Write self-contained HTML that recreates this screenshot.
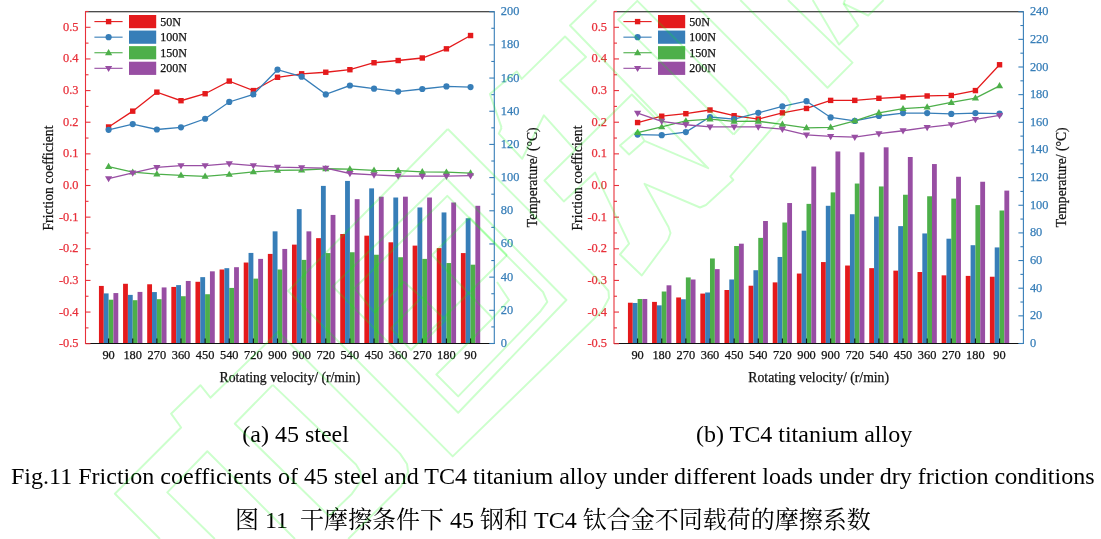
<!DOCTYPE html>
<html><head><meta charset="utf-8"><title>Fig.11</title>
<style>
html,body{margin:0;padding:0;background:#fff;}
body{width:1101px;height:539px;overflow:hidden;position:relative;font-family:"Liberation Serif","Noto Serif CJK SC",serif;}
svg{position:absolute;left:0;top:0;}
svg text{font-family:"Liberation Serif",serif;stroke-width:0.25px;paint-order:stroke;}
.tk{font-size:12.4px;}
.ax{font-size:13.7px;}
.lg{font-size:12px;}
svg text[fill="#111"]{stroke:#111;}
svg text[fill="#e8303a"]{stroke:#e8303a;}
svg text[fill="#377eb8"]{stroke:#377eb8;}
.cap{position:absolute;white-space:nowrap;font-size:24px;line-height:24px;color:#000;}
</style></head><body>
<svg width="1101" height="539" viewBox="0 0 1101 539">
<rect x="98.94" y="285.93" width="4.83" height="57.57" fill="#e41a1c"/>
<rect x="103.77" y="293.40" width="4.83" height="50.10" fill="#377eb8"/>
<rect x="108.60" y="299.70" width="4.83" height="43.80" fill="#4daf4a"/>
<rect x="113.43" y="293.07" width="4.83" height="50.43" fill="#984ea3"/>
<rect x="123.07" y="283.78" width="4.83" height="59.72" fill="#e41a1c"/>
<rect x="127.90" y="294.89" width="4.83" height="48.61" fill="#377eb8"/>
<rect x="132.73" y="300.20" width="4.83" height="43.30" fill="#4daf4a"/>
<rect x="137.56" y="291.91" width="4.83" height="51.59" fill="#984ea3"/>
<rect x="147.20" y="284.27" width="4.83" height="59.23" fill="#e41a1c"/>
<rect x="152.03" y="292.07" width="4.83" height="51.43" fill="#377eb8"/>
<rect x="156.86" y="299.20" width="4.83" height="44.30" fill="#4daf4a"/>
<rect x="161.69" y="287.43" width="4.83" height="56.07" fill="#984ea3"/>
<rect x="171.33" y="286.93" width="4.83" height="56.57" fill="#e41a1c"/>
<rect x="176.16" y="285.10" width="4.83" height="58.40" fill="#377eb8"/>
<rect x="180.99" y="296.22" width="4.83" height="47.28" fill="#4daf4a"/>
<rect x="185.82" y="280.96" width="4.83" height="62.54" fill="#984ea3"/>
<rect x="195.46" y="281.79" width="4.83" height="61.71" fill="#e41a1c"/>
<rect x="200.29" y="277.14" width="4.83" height="66.36" fill="#377eb8"/>
<rect x="205.12" y="294.23" width="4.83" height="49.27" fill="#4daf4a"/>
<rect x="209.95" y="271.33" width="4.83" height="72.17" fill="#984ea3"/>
<rect x="219.59" y="269.51" width="4.83" height="73.99" fill="#e41a1c"/>
<rect x="224.42" y="268.18" width="4.83" height="75.32" fill="#377eb8"/>
<rect x="229.25" y="287.92" width="4.83" height="55.58" fill="#4daf4a"/>
<rect x="234.08" y="267.19" width="4.83" height="76.31" fill="#984ea3"/>
<rect x="243.72" y="262.54" width="4.83" height="80.96" fill="#e41a1c"/>
<rect x="248.55" y="252.92" width="4.83" height="90.58" fill="#377eb8"/>
<rect x="253.38" y="278.63" width="4.83" height="64.87" fill="#4daf4a"/>
<rect x="258.21" y="258.89" width="4.83" height="84.61" fill="#984ea3"/>
<rect x="267.85" y="253.91" width="4.83" height="89.59" fill="#e41a1c"/>
<rect x="272.68" y="231.35" width="4.83" height="112.15" fill="#377eb8"/>
<rect x="277.51" y="269.51" width="4.83" height="73.99" fill="#4daf4a"/>
<rect x="282.34" y="248.94" width="4.83" height="94.56" fill="#984ea3"/>
<rect x="291.98" y="244.62" width="4.83" height="98.88" fill="#e41a1c"/>
<rect x="296.81" y="209.12" width="4.83" height="134.38" fill="#377eb8"/>
<rect x="301.64" y="259.89" width="4.83" height="83.61" fill="#4daf4a"/>
<rect x="306.47" y="231.35" width="4.83" height="112.15" fill="#984ea3"/>
<rect x="316.11" y="238.15" width="4.83" height="105.35" fill="#e41a1c"/>
<rect x="320.94" y="185.90" width="4.83" height="157.60" fill="#377eb8"/>
<rect x="325.77" y="253.08" width="4.83" height="90.42" fill="#4daf4a"/>
<rect x="330.60" y="214.93" width="4.83" height="128.57" fill="#984ea3"/>
<rect x="340.24" y="234.01" width="4.83" height="109.49" fill="#e41a1c"/>
<rect x="345.07" y="180.92" width="4.83" height="162.58" fill="#377eb8"/>
<rect x="349.90" y="252.25" width="4.83" height="91.25" fill="#4daf4a"/>
<rect x="354.73" y="199.17" width="4.83" height="144.33" fill="#984ea3"/>
<rect x="364.37" y="235.67" width="4.83" height="107.83" fill="#e41a1c"/>
<rect x="369.20" y="188.38" width="4.83" height="155.12" fill="#377eb8"/>
<rect x="374.03" y="254.74" width="4.83" height="88.76" fill="#4daf4a"/>
<rect x="378.86" y="196.68" width="4.83" height="146.82" fill="#984ea3"/>
<rect x="388.50" y="242.30" width="4.83" height="101.20" fill="#e41a1c"/>
<rect x="393.33" y="197.51" width="4.83" height="145.99" fill="#377eb8"/>
<rect x="398.16" y="257.23" width="4.83" height="86.27" fill="#4daf4a"/>
<rect x="402.99" y="196.68" width="4.83" height="146.82" fill="#984ea3"/>
<rect x="412.63" y="245.62" width="4.83" height="97.88" fill="#e41a1c"/>
<rect x="417.46" y="207.46" width="4.83" height="136.04" fill="#377eb8"/>
<rect x="422.29" y="258.89" width="4.83" height="84.61" fill="#4daf4a"/>
<rect x="427.12" y="197.51" width="4.83" height="145.99" fill="#984ea3"/>
<rect x="436.76" y="248.11" width="4.83" height="95.39" fill="#e41a1c"/>
<rect x="441.59" y="212.44" width="4.83" height="131.06" fill="#377eb8"/>
<rect x="446.42" y="263.04" width="4.83" height="80.46" fill="#4daf4a"/>
<rect x="451.25" y="202.49" width="4.83" height="141.01" fill="#984ea3"/>
<rect x="460.89" y="253.08" width="4.83" height="90.42" fill="#e41a1c"/>
<rect x="465.72" y="218.25" width="4.83" height="125.25" fill="#377eb8"/>
<rect x="470.55" y="264.70" width="4.83" height="78.80" fill="#4daf4a"/>
<rect x="475.38" y="205.80" width="4.83" height="137.70" fill="#984ea3"/>
<line x1="85.5" y1="11.7" x2="494.3" y2="11.7" stroke="#111" stroke-width="1.1"/>
<line x1="85.5" y1="343.5" x2="494.3" y2="343.5" stroke="#111" stroke-width="1.1"/>
<line x1="85.5" y1="11.2" x2="85.5" y2="344.0" stroke="#e8303a" stroke-width="1.1"/>
<line x1="494.3" y1="11.2" x2="494.3" y2="344.0" stroke="#377eb8" stroke-width="1.1"/>
<line x1="108.60" y1="343.5" x2="108.60" y2="338.5" stroke="#111" stroke-width="1.1"/>
<text x="108.60" y="359.1" text-anchor="middle" class="tk" fill="#111">90</text>
<line x1="132.73" y1="343.5" x2="132.73" y2="338.5" stroke="#111" stroke-width="1.1"/>
<text x="132.73" y="359.1" text-anchor="middle" class="tk" fill="#111">180</text>
<line x1="156.86" y1="343.5" x2="156.86" y2="338.5" stroke="#111" stroke-width="1.1"/>
<text x="156.86" y="359.1" text-anchor="middle" class="tk" fill="#111">270</text>
<line x1="180.99" y1="343.5" x2="180.99" y2="338.5" stroke="#111" stroke-width="1.1"/>
<text x="180.99" y="359.1" text-anchor="middle" class="tk" fill="#111">360</text>
<line x1="205.12" y1="343.5" x2="205.12" y2="338.5" stroke="#111" stroke-width="1.1"/>
<text x="205.12" y="359.1" text-anchor="middle" class="tk" fill="#111">450</text>
<line x1="229.25" y1="343.5" x2="229.25" y2="338.5" stroke="#111" stroke-width="1.1"/>
<text x="229.25" y="359.1" text-anchor="middle" class="tk" fill="#111">540</text>
<line x1="253.38" y1="343.5" x2="253.38" y2="338.5" stroke="#111" stroke-width="1.1"/>
<text x="253.38" y="359.1" text-anchor="middle" class="tk" fill="#111">720</text>
<line x1="277.51" y1="343.5" x2="277.51" y2="338.5" stroke="#111" stroke-width="1.1"/>
<text x="277.51" y="359.1" text-anchor="middle" class="tk" fill="#111">900</text>
<line x1="301.64" y1="343.5" x2="301.64" y2="338.5" stroke="#111" stroke-width="1.1"/>
<text x="301.64" y="359.1" text-anchor="middle" class="tk" fill="#111">900</text>
<line x1="325.77" y1="343.5" x2="325.77" y2="338.5" stroke="#111" stroke-width="1.1"/>
<text x="325.77" y="359.1" text-anchor="middle" class="tk" fill="#111">720</text>
<line x1="349.90" y1="343.5" x2="349.90" y2="338.5" stroke="#111" stroke-width="1.1"/>
<text x="349.90" y="359.1" text-anchor="middle" class="tk" fill="#111">540</text>
<line x1="374.03" y1="343.5" x2="374.03" y2="338.5" stroke="#111" stroke-width="1.1"/>
<text x="374.03" y="359.1" text-anchor="middle" class="tk" fill="#111">450</text>
<line x1="398.16" y1="343.5" x2="398.16" y2="338.5" stroke="#111" stroke-width="1.1"/>
<text x="398.16" y="359.1" text-anchor="middle" class="tk" fill="#111">360</text>
<line x1="422.29" y1="343.5" x2="422.29" y2="338.5" stroke="#111" stroke-width="1.1"/>
<text x="422.29" y="359.1" text-anchor="middle" class="tk" fill="#111">270</text>
<line x1="446.42" y1="343.5" x2="446.42" y2="338.5" stroke="#111" stroke-width="1.1"/>
<text x="446.42" y="359.1" text-anchor="middle" class="tk" fill="#111">180</text>
<line x1="470.55" y1="343.5" x2="470.55" y2="338.5" stroke="#111" stroke-width="1.1"/>
<text x="470.55" y="359.1" text-anchor="middle" class="tk" fill="#111">90</text>
<line x1="85.5" y1="343.70" x2="90.5" y2="343.70" stroke="#e8303a" stroke-width="1.1"/>
<text x="78.50" y="347.20" text-anchor="end" class="tk" fill="#e8303a">-0.5</text>
<line x1="85.5" y1="327.88" x2="88.5" y2="327.88" stroke="#e8303a" stroke-width="1.1"/>
<line x1="85.5" y1="312.06" x2="90.5" y2="312.06" stroke="#e8303a" stroke-width="1.1"/>
<text x="78.50" y="315.56" text-anchor="end" class="tk" fill="#e8303a">-0.4</text>
<line x1="85.5" y1="296.24" x2="88.5" y2="296.24" stroke="#e8303a" stroke-width="1.1"/>
<line x1="85.5" y1="280.42" x2="90.5" y2="280.42" stroke="#e8303a" stroke-width="1.1"/>
<text x="78.50" y="283.92" text-anchor="end" class="tk" fill="#e8303a">-0.3</text>
<line x1="85.5" y1="264.60" x2="88.5" y2="264.60" stroke="#e8303a" stroke-width="1.1"/>
<line x1="85.5" y1="248.78" x2="90.5" y2="248.78" stroke="#e8303a" stroke-width="1.1"/>
<text x="78.50" y="252.28" text-anchor="end" class="tk" fill="#e8303a">-0.2</text>
<line x1="85.5" y1="232.96" x2="88.5" y2="232.96" stroke="#e8303a" stroke-width="1.1"/>
<line x1="85.5" y1="217.14" x2="90.5" y2="217.14" stroke="#e8303a" stroke-width="1.1"/>
<text x="78.50" y="220.64" text-anchor="end" class="tk" fill="#e8303a">-0.1</text>
<line x1="85.5" y1="201.32" x2="88.5" y2="201.32" stroke="#e8303a" stroke-width="1.1"/>
<line x1="85.5" y1="185.50" x2="90.5" y2="185.50" stroke="#e8303a" stroke-width="1.1"/>
<text x="78.50" y="189.00" text-anchor="end" class="tk" fill="#e8303a">0.0</text>
<line x1="85.5" y1="169.68" x2="88.5" y2="169.68" stroke="#e8303a" stroke-width="1.1"/>
<line x1="85.5" y1="153.86" x2="90.5" y2="153.86" stroke="#e8303a" stroke-width="1.1"/>
<text x="78.50" y="157.36" text-anchor="end" class="tk" fill="#e8303a">0.1</text>
<line x1="85.5" y1="138.04" x2="88.5" y2="138.04" stroke="#e8303a" stroke-width="1.1"/>
<line x1="85.5" y1="122.22" x2="90.5" y2="122.22" stroke="#e8303a" stroke-width="1.1"/>
<text x="78.50" y="125.72" text-anchor="end" class="tk" fill="#e8303a">0.2</text>
<line x1="85.5" y1="106.40" x2="88.5" y2="106.40" stroke="#e8303a" stroke-width="1.1"/>
<line x1="85.5" y1="90.58" x2="90.5" y2="90.58" stroke="#e8303a" stroke-width="1.1"/>
<text x="78.50" y="94.08" text-anchor="end" class="tk" fill="#e8303a">0.3</text>
<line x1="85.5" y1="74.76" x2="88.5" y2="74.76" stroke="#e8303a" stroke-width="1.1"/>
<line x1="85.5" y1="58.94" x2="90.5" y2="58.94" stroke="#e8303a" stroke-width="1.1"/>
<text x="78.50" y="62.44" text-anchor="end" class="tk" fill="#e8303a">0.4</text>
<line x1="85.5" y1="43.12" x2="88.5" y2="43.12" stroke="#e8303a" stroke-width="1.1"/>
<line x1="85.5" y1="27.30" x2="90.5" y2="27.30" stroke="#e8303a" stroke-width="1.1"/>
<text x="78.50" y="30.80" text-anchor="end" class="tk" fill="#e8303a">0.5</text>
<line x1="85.5" y1="11.48" x2="88.5" y2="11.48" stroke="#e8303a" stroke-width="1.1"/>
<line x1="494.3" y1="343.50" x2="489.3" y2="343.50" stroke="#377eb8" stroke-width="1.1"/>
<text x="500.80" y="347.00" class="tk" fill="#377eb8">0</text>
<line x1="494.3" y1="326.91" x2="491.3" y2="326.91" stroke="#377eb8" stroke-width="1.1"/>
<line x1="494.3" y1="310.32" x2="489.3" y2="310.32" stroke="#377eb8" stroke-width="1.1"/>
<text x="500.80" y="313.82" class="tk" fill="#377eb8">20</text>
<line x1="494.3" y1="293.73" x2="491.3" y2="293.73" stroke="#377eb8" stroke-width="1.1"/>
<line x1="494.3" y1="277.14" x2="489.3" y2="277.14" stroke="#377eb8" stroke-width="1.1"/>
<text x="500.80" y="280.64" class="tk" fill="#377eb8">40</text>
<line x1="494.3" y1="260.55" x2="491.3" y2="260.55" stroke="#377eb8" stroke-width="1.1"/>
<line x1="494.3" y1="243.96" x2="489.3" y2="243.96" stroke="#377eb8" stroke-width="1.1"/>
<text x="500.80" y="247.46" class="tk" fill="#377eb8">60</text>
<line x1="494.3" y1="227.37" x2="491.3" y2="227.37" stroke="#377eb8" stroke-width="1.1"/>
<line x1="494.3" y1="210.78" x2="489.3" y2="210.78" stroke="#377eb8" stroke-width="1.1"/>
<text x="500.80" y="214.28" class="tk" fill="#377eb8">80</text>
<line x1="494.3" y1="194.19" x2="491.3" y2="194.19" stroke="#377eb8" stroke-width="1.1"/>
<line x1="494.3" y1="177.60" x2="489.3" y2="177.60" stroke="#377eb8" stroke-width="1.1"/>
<text x="500.80" y="181.10" class="tk" fill="#377eb8">100</text>
<line x1="494.3" y1="161.01" x2="491.3" y2="161.01" stroke="#377eb8" stroke-width="1.1"/>
<line x1="494.3" y1="144.42" x2="489.3" y2="144.42" stroke="#377eb8" stroke-width="1.1"/>
<text x="500.80" y="147.92" class="tk" fill="#377eb8">120</text>
<line x1="494.3" y1="127.83" x2="491.3" y2="127.83" stroke="#377eb8" stroke-width="1.1"/>
<line x1="494.3" y1="111.24" x2="489.3" y2="111.24" stroke="#377eb8" stroke-width="1.1"/>
<text x="500.80" y="114.74" class="tk" fill="#377eb8">140</text>
<line x1="494.3" y1="94.65" x2="491.3" y2="94.65" stroke="#377eb8" stroke-width="1.1"/>
<line x1="494.3" y1="78.06" x2="489.3" y2="78.06" stroke="#377eb8" stroke-width="1.1"/>
<text x="500.80" y="81.56" class="tk" fill="#377eb8">160</text>
<line x1="494.3" y1="61.47" x2="491.3" y2="61.47" stroke="#377eb8" stroke-width="1.1"/>
<line x1="494.3" y1="44.88" x2="489.3" y2="44.88" stroke="#377eb8" stroke-width="1.1"/>
<text x="500.80" y="48.38" class="tk" fill="#377eb8">180</text>
<line x1="494.3" y1="28.29" x2="491.3" y2="28.29" stroke="#377eb8" stroke-width="1.1"/>
<line x1="494.3" y1="11.70" x2="489.3" y2="11.70" stroke="#377eb8" stroke-width="1.1"/>
<text x="500.80" y="15.20" class="tk" fill="#377eb8">200</text>
<polyline fill="none" stroke="#e41a1c" stroke-width="1.3" points="108.60,126.97 132.73,111.15 156.86,92.16 180.99,100.70 205.12,93.74 229.25,81.09 253.38,90.58 277.51,77.29 301.64,73.81 325.77,72.23 349.90,69.70 374.03,62.74 398.16,60.52 422.29,57.99 446.42,48.82 470.55,35.53"/>
<rect x="105.90" y="124.27" width="5.4" height="5.4" fill="#e41a1c"/>
<rect x="130.03" y="108.45" width="5.4" height="5.4" fill="#e41a1c"/>
<rect x="154.16" y="89.46" width="5.4" height="5.4" fill="#e41a1c"/>
<rect x="178.29" y="98.00" width="5.4" height="5.4" fill="#e41a1c"/>
<rect x="202.42" y="91.04" width="5.4" height="5.4" fill="#e41a1c"/>
<rect x="226.55" y="78.39" width="5.4" height="5.4" fill="#e41a1c"/>
<rect x="250.68" y="87.88" width="5.4" height="5.4" fill="#e41a1c"/>
<rect x="274.81" y="74.59" width="5.4" height="5.4" fill="#e41a1c"/>
<rect x="298.94" y="71.11" width="5.4" height="5.4" fill="#e41a1c"/>
<rect x="323.07" y="69.53" width="5.4" height="5.4" fill="#e41a1c"/>
<rect x="347.20" y="67.00" width="5.4" height="5.4" fill="#e41a1c"/>
<rect x="371.33" y="60.04" width="5.4" height="5.4" fill="#e41a1c"/>
<rect x="395.46" y="57.82" width="5.4" height="5.4" fill="#e41a1c"/>
<rect x="419.59" y="55.29" width="5.4" height="5.4" fill="#e41a1c"/>
<rect x="443.72" y="46.12" width="5.4" height="5.4" fill="#e41a1c"/>
<rect x="467.85" y="32.83" width="5.4" height="5.4" fill="#e41a1c"/>
<polyline fill="none" stroke="#377eb8" stroke-width="1.3" points="108.60,129.81 132.73,124.12 156.86,129.50 180.99,127.28 205.12,118.74 229.25,101.97 253.38,94.38 277.51,69.70 301.64,76.66 325.77,94.38 349.90,85.52 374.03,88.68 398.16,91.53 422.29,89.00 446.42,86.47 470.55,87.10"/>
<circle cx="108.60" cy="129.81" r="3.1" fill="#377eb8"/>
<circle cx="132.73" cy="124.12" r="3.1" fill="#377eb8"/>
<circle cx="156.86" cy="129.50" r="3.1" fill="#377eb8"/>
<circle cx="180.99" cy="127.28" r="3.1" fill="#377eb8"/>
<circle cx="205.12" cy="118.74" r="3.1" fill="#377eb8"/>
<circle cx="229.25" cy="101.97" r="3.1" fill="#377eb8"/>
<circle cx="253.38" cy="94.38" r="3.1" fill="#377eb8"/>
<circle cx="277.51" cy="69.70" r="3.1" fill="#377eb8"/>
<circle cx="301.64" cy="76.66" r="3.1" fill="#377eb8"/>
<circle cx="325.77" cy="94.38" r="3.1" fill="#377eb8"/>
<circle cx="349.90" cy="85.52" r="3.1" fill="#377eb8"/>
<circle cx="374.03" cy="88.68" r="3.1" fill="#377eb8"/>
<circle cx="398.16" cy="91.53" r="3.1" fill="#377eb8"/>
<circle cx="422.29" cy="89.00" r="3.1" fill="#377eb8"/>
<circle cx="446.42" cy="86.47" r="3.1" fill="#377eb8"/>
<circle cx="470.55" cy="87.10" r="3.1" fill="#377eb8"/>
<polyline fill="none" stroke="#4daf4a" stroke-width="1.3" points="108.60,166.52 132.73,172.21 156.86,174.11 180.99,175.38 205.12,176.32 229.25,174.43 253.38,171.89 277.51,170.31 301.64,170.00 325.77,168.73 349.90,169.05 374.03,170.31 398.16,170.63 422.29,171.89 446.42,172.21 470.55,173.16"/>
<polygon points="108.60,162.72 105.00,168.92 112.20,168.92" fill="#4daf4a"/>
<polygon points="132.73,168.41 129.13,174.61 136.33,174.61" fill="#4daf4a"/>
<polygon points="156.86,170.31 153.26,176.51 160.46,176.51" fill="#4daf4a"/>
<polygon points="180.99,171.58 177.39,177.78 184.59,177.78" fill="#4daf4a"/>
<polygon points="205.12,172.52 201.52,178.72 208.72,178.72" fill="#4daf4a"/>
<polygon points="229.25,170.63 225.65,176.83 232.85,176.83" fill="#4daf4a"/>
<polygon points="253.38,168.09 249.78,174.29 256.98,174.29" fill="#4daf4a"/>
<polygon points="277.51,166.51 273.91,172.71 281.11,172.71" fill="#4daf4a"/>
<polygon points="301.64,166.20 298.04,172.40 305.24,172.40" fill="#4daf4a"/>
<polygon points="325.77,164.93 322.17,171.13 329.37,171.13" fill="#4daf4a"/>
<polygon points="349.90,165.25 346.30,171.45 353.50,171.45" fill="#4daf4a"/>
<polygon points="374.03,166.51 370.43,172.71 377.63,172.71" fill="#4daf4a"/>
<polygon points="398.16,166.83 394.56,173.03 401.76,173.03" fill="#4daf4a"/>
<polygon points="422.29,168.09 418.69,174.29 425.89,174.29" fill="#4daf4a"/>
<polygon points="446.42,168.41 442.82,174.61 450.02,174.61" fill="#4daf4a"/>
<polygon points="470.55,169.36 466.95,175.56 474.15,175.56" fill="#4daf4a"/>
<polyline fill="none" stroke="#984ea3" stroke-width="1.3" points="108.60,178.54 132.73,172.84 156.86,167.47 180.99,165.57 205.12,165.57 229.25,163.67 253.38,165.57 277.51,167.15 301.64,167.56 325.77,168.10 349.90,173.48 374.03,174.84 398.16,176.01 422.29,176.13 446.42,176.13 470.55,175.69"/>
<polygon points="108.60,182.34 105.00,176.14 112.20,176.14" fill="#984ea3"/>
<polygon points="132.73,176.64 129.13,170.44 136.33,170.44" fill="#984ea3"/>
<polygon points="156.86,171.27 153.26,165.07 160.46,165.07" fill="#984ea3"/>
<polygon points="180.99,169.37 177.39,163.17 184.59,163.17" fill="#984ea3"/>
<polygon points="205.12,169.37 201.52,163.17 208.72,163.17" fill="#984ea3"/>
<polygon points="229.25,167.47 225.65,161.27 232.85,161.27" fill="#984ea3"/>
<polygon points="253.38,169.37 249.78,163.17 256.98,163.17" fill="#984ea3"/>
<polygon points="277.51,170.95 273.91,164.75 281.11,164.75" fill="#984ea3"/>
<polygon points="301.64,171.36 298.04,165.16 305.24,165.16" fill="#984ea3"/>
<polygon points="325.77,171.90 322.17,165.70 329.37,165.70" fill="#984ea3"/>
<polygon points="349.90,177.28 346.30,171.08 353.50,171.08" fill="#984ea3"/>
<polygon points="374.03,178.64 370.43,172.44 377.63,172.44" fill="#984ea3"/>
<polygon points="398.16,179.81 394.56,173.61 401.76,173.61" fill="#984ea3"/>
<polygon points="422.29,179.93 418.69,173.73 425.89,173.73" fill="#984ea3"/>
<polygon points="446.42,179.93 442.82,173.73 450.02,173.73" fill="#984ea3"/>
<polygon points="470.55,179.49 466.95,173.29 474.15,173.29" fill="#984ea3"/>
<line x1="94.40" y1="21.60" x2="122.60" y2="21.60" stroke="#e41a1c" stroke-width="1.1"/>
<rect x="105.90" y="18.90" width="5.4" height="5.4" fill="#e41a1c"/>
<rect x="129.00" y="15.00" width="27.2" height="13.2" fill="#e41a1c"/>
<text x="160.20" y="25.60" class="lg" fill="#111">50N</text>
<line x1="94.40" y1="37.17" x2="122.60" y2="37.17" stroke="#377eb8" stroke-width="1.1"/>
<circle cx="108.60" cy="37.17" r="3.1" fill="#377eb8"/>
<rect x="129.00" y="30.57" width="27.2" height="13.2" fill="#377eb8"/>
<text x="160.20" y="41.17" class="lg" fill="#111">100N</text>
<line x1="94.40" y1="52.74" x2="122.60" y2="52.74" stroke="#4daf4a" stroke-width="1.1"/>
<polygon points="108.60,48.94 105.00,55.14 112.20,55.14" fill="#4daf4a"/>
<rect x="129.00" y="46.14" width="27.2" height="13.2" fill="#4daf4a"/>
<text x="160.20" y="56.74" class="lg" fill="#111">150N</text>
<line x1="94.40" y1="68.31" x2="122.60" y2="68.31" stroke="#984ea3" stroke-width="1.1"/>
<polygon points="108.60,72.11 105.00,65.91 112.20,65.91" fill="#984ea3"/>
<rect x="129.00" y="61.71" width="27.2" height="13.2" fill="#984ea3"/>
<text x="160.20" y="72.31" class="lg" fill="#111">200N</text>
<text x="289.90" y="381.6" text-anchor="middle" class="ax" fill="#111">Rotating velocity/ (r/min)</text>
<text transform="translate(53.00,178) rotate(-90)" text-anchor="middle" class="ax" fill="#111">Friction coefficient</text>
<text transform="translate(536.60,177.3) rotate(-90)" text-anchor="middle" class="ax" fill="#111">Temperature/ (°C)</text>
<rect x="627.94" y="302.72" width="4.83" height="40.78" fill="#e41a1c"/>
<rect x="632.77" y="302.99" width="4.83" height="40.51" fill="#377eb8"/>
<rect x="637.60" y="298.98" width="4.83" height="44.52" fill="#4daf4a"/>
<rect x="642.43" y="298.98" width="4.83" height="44.52" fill="#984ea3"/>
<rect x="652.07" y="301.89" width="4.83" height="41.61" fill="#e41a1c"/>
<rect x="656.90" y="305.34" width="4.83" height="38.16" fill="#377eb8"/>
<rect x="661.73" y="291.52" width="4.83" height="51.98" fill="#4daf4a"/>
<rect x="666.56" y="285.30" width="4.83" height="58.20" fill="#984ea3"/>
<rect x="676.20" y="297.46" width="4.83" height="46.04" fill="#e41a1c"/>
<rect x="681.03" y="299.26" width="4.83" height="44.24" fill="#377eb8"/>
<rect x="685.86" y="277.42" width="4.83" height="66.08" fill="#4daf4a"/>
<rect x="690.69" y="279.49" width="4.83" height="64.01" fill="#984ea3"/>
<rect x="700.33" y="293.59" width="4.83" height="49.91" fill="#e41a1c"/>
<rect x="705.16" y="292.49" width="4.83" height="51.01" fill="#377eb8"/>
<rect x="709.99" y="258.48" width="4.83" height="85.02" fill="#4daf4a"/>
<rect x="714.82" y="269.12" width="4.83" height="74.38" fill="#984ea3"/>
<rect x="724.46" y="290.00" width="4.83" height="53.50" fill="#e41a1c"/>
<rect x="729.29" y="279.49" width="4.83" height="64.01" fill="#377eb8"/>
<rect x="734.12" y="246.03" width="4.83" height="97.47" fill="#4daf4a"/>
<rect x="738.95" y="243.68" width="4.83" height="99.82" fill="#984ea3"/>
<rect x="748.59" y="285.71" width="4.83" height="57.79" fill="#e41a1c"/>
<rect x="753.42" y="270.23" width="4.83" height="73.27" fill="#377eb8"/>
<rect x="758.25" y="237.88" width="4.83" height="105.62" fill="#4daf4a"/>
<rect x="763.08" y="221.01" width="4.83" height="122.49" fill="#984ea3"/>
<rect x="772.72" y="282.39" width="4.83" height="61.11" fill="#e41a1c"/>
<rect x="777.55" y="256.96" width="4.83" height="86.54" fill="#377eb8"/>
<rect x="782.38" y="222.53" width="4.83" height="120.97" fill="#4daf4a"/>
<rect x="787.21" y="203.04" width="4.83" height="140.46" fill="#984ea3"/>
<rect x="796.85" y="273.55" width="4.83" height="69.95" fill="#e41a1c"/>
<rect x="801.68" y="230.69" width="4.83" height="112.81" fill="#377eb8"/>
<rect x="806.51" y="203.87" width="4.83" height="139.63" fill="#4daf4a"/>
<rect x="811.34" y="166.54" width="4.83" height="176.96" fill="#984ea3"/>
<rect x="820.98" y="262.07" width="4.83" height="81.43" fill="#e41a1c"/>
<rect x="825.81" y="205.80" width="4.83" height="137.70" fill="#377eb8"/>
<rect x="830.64" y="192.39" width="4.83" height="151.11" fill="#4daf4a"/>
<rect x="835.47" y="151.47" width="4.83" height="192.03" fill="#984ea3"/>
<rect x="845.11" y="265.53" width="4.83" height="77.97" fill="#e41a1c"/>
<rect x="849.94" y="214.24" width="4.83" height="129.26" fill="#377eb8"/>
<rect x="854.77" y="183.54" width="4.83" height="159.96" fill="#4daf4a"/>
<rect x="859.60" y="152.30" width="4.83" height="191.20" fill="#984ea3"/>
<rect x="869.24" y="268.15" width="4.83" height="75.35" fill="#e41a1c"/>
<rect x="874.07" y="216.59" width="4.83" height="126.91" fill="#377eb8"/>
<rect x="878.90" y="186.45" width="4.83" height="157.05" fill="#4daf4a"/>
<rect x="883.73" y="147.32" width="4.83" height="196.18" fill="#984ea3"/>
<rect x="893.37" y="270.64" width="4.83" height="72.86" fill="#e41a1c"/>
<rect x="898.20" y="226.13" width="4.83" height="117.37" fill="#377eb8"/>
<rect x="903.03" y="194.74" width="4.83" height="148.76" fill="#4daf4a"/>
<rect x="907.86" y="157.00" width="4.83" height="186.50" fill="#984ea3"/>
<rect x="917.50" y="272.02" width="4.83" height="71.48" fill="#e41a1c"/>
<rect x="922.33" y="233.45" width="4.83" height="110.05" fill="#377eb8"/>
<rect x="927.16" y="196.26" width="4.83" height="147.24" fill="#4daf4a"/>
<rect x="931.99" y="164.05" width="4.83" height="179.45" fill="#984ea3"/>
<rect x="941.63" y="275.34" width="4.83" height="68.16" fill="#e41a1c"/>
<rect x="946.46" y="238.71" width="4.83" height="104.79" fill="#377eb8"/>
<rect x="951.29" y="198.61" width="4.83" height="144.89" fill="#4daf4a"/>
<rect x="956.12" y="176.77" width="4.83" height="166.73" fill="#984ea3"/>
<rect x="965.76" y="275.90" width="4.83" height="67.60" fill="#e41a1c"/>
<rect x="970.59" y="245.20" width="4.83" height="98.30" fill="#377eb8"/>
<rect x="975.42" y="205.11" width="4.83" height="138.39" fill="#4daf4a"/>
<rect x="980.25" y="181.75" width="4.83" height="161.75" fill="#984ea3"/>
<rect x="989.89" y="276.73" width="4.83" height="66.77" fill="#e41a1c"/>
<rect x="994.72" y="247.42" width="4.83" height="96.08" fill="#377eb8"/>
<rect x="999.55" y="210.50" width="4.83" height="133.00" fill="#4daf4a"/>
<rect x="1004.38" y="190.60" width="4.83" height="152.90" fill="#984ea3"/>
<line x1="614.0" y1="11.7" x2="1023.4" y2="11.7" stroke="#111" stroke-width="1.1"/>
<line x1="614.0" y1="343.5" x2="1023.4" y2="343.5" stroke="#111" stroke-width="1.1"/>
<line x1="614.0" y1="11.2" x2="614.0" y2="344.0" stroke="#e8303a" stroke-width="1.1"/>
<line x1="1023.4" y1="11.2" x2="1023.4" y2="344.0" stroke="#377eb8" stroke-width="1.1"/>
<line x1="637.60" y1="343.5" x2="637.60" y2="338.5" stroke="#111" stroke-width="1.1"/>
<text x="637.60" y="359.1" text-anchor="middle" class="tk" fill="#111">90</text>
<line x1="661.73" y1="343.5" x2="661.73" y2="338.5" stroke="#111" stroke-width="1.1"/>
<text x="661.73" y="359.1" text-anchor="middle" class="tk" fill="#111">180</text>
<line x1="685.86" y1="343.5" x2="685.86" y2="338.5" stroke="#111" stroke-width="1.1"/>
<text x="685.86" y="359.1" text-anchor="middle" class="tk" fill="#111">270</text>
<line x1="709.99" y1="343.5" x2="709.99" y2="338.5" stroke="#111" stroke-width="1.1"/>
<text x="709.99" y="359.1" text-anchor="middle" class="tk" fill="#111">360</text>
<line x1="734.12" y1="343.5" x2="734.12" y2="338.5" stroke="#111" stroke-width="1.1"/>
<text x="734.12" y="359.1" text-anchor="middle" class="tk" fill="#111">450</text>
<line x1="758.25" y1="343.5" x2="758.25" y2="338.5" stroke="#111" stroke-width="1.1"/>
<text x="758.25" y="359.1" text-anchor="middle" class="tk" fill="#111">540</text>
<line x1="782.38" y1="343.5" x2="782.38" y2="338.5" stroke="#111" stroke-width="1.1"/>
<text x="782.38" y="359.1" text-anchor="middle" class="tk" fill="#111">720</text>
<line x1="806.51" y1="343.5" x2="806.51" y2="338.5" stroke="#111" stroke-width="1.1"/>
<text x="806.51" y="359.1" text-anchor="middle" class="tk" fill="#111">900</text>
<line x1="830.64" y1="343.5" x2="830.64" y2="338.5" stroke="#111" stroke-width="1.1"/>
<text x="830.64" y="359.1" text-anchor="middle" class="tk" fill="#111">900</text>
<line x1="854.77" y1="343.5" x2="854.77" y2="338.5" stroke="#111" stroke-width="1.1"/>
<text x="854.77" y="359.1" text-anchor="middle" class="tk" fill="#111">720</text>
<line x1="878.90" y1="343.5" x2="878.90" y2="338.5" stroke="#111" stroke-width="1.1"/>
<text x="878.90" y="359.1" text-anchor="middle" class="tk" fill="#111">540</text>
<line x1="903.03" y1="343.5" x2="903.03" y2="338.5" stroke="#111" stroke-width="1.1"/>
<text x="903.03" y="359.1" text-anchor="middle" class="tk" fill="#111">450</text>
<line x1="927.16" y1="343.5" x2="927.16" y2="338.5" stroke="#111" stroke-width="1.1"/>
<text x="927.16" y="359.1" text-anchor="middle" class="tk" fill="#111">360</text>
<line x1="951.29" y1="343.5" x2="951.29" y2="338.5" stroke="#111" stroke-width="1.1"/>
<text x="951.29" y="359.1" text-anchor="middle" class="tk" fill="#111">270</text>
<line x1="975.42" y1="343.5" x2="975.42" y2="338.5" stroke="#111" stroke-width="1.1"/>
<text x="975.42" y="359.1" text-anchor="middle" class="tk" fill="#111">180</text>
<line x1="999.55" y1="343.5" x2="999.55" y2="338.5" stroke="#111" stroke-width="1.1"/>
<text x="999.55" y="359.1" text-anchor="middle" class="tk" fill="#111">90</text>
<line x1="614.0" y1="343.70" x2="619.0" y2="343.70" stroke="#e8303a" stroke-width="1.1"/>
<text x="607.00" y="347.20" text-anchor="end" class="tk" fill="#e8303a">-0.5</text>
<line x1="614.0" y1="327.88" x2="617.0" y2="327.88" stroke="#e8303a" stroke-width="1.1"/>
<line x1="614.0" y1="312.06" x2="619.0" y2="312.06" stroke="#e8303a" stroke-width="1.1"/>
<text x="607.00" y="315.56" text-anchor="end" class="tk" fill="#e8303a">-0.4</text>
<line x1="614.0" y1="296.24" x2="617.0" y2="296.24" stroke="#e8303a" stroke-width="1.1"/>
<line x1="614.0" y1="280.42" x2="619.0" y2="280.42" stroke="#e8303a" stroke-width="1.1"/>
<text x="607.00" y="283.92" text-anchor="end" class="tk" fill="#e8303a">-0.3</text>
<line x1="614.0" y1="264.60" x2="617.0" y2="264.60" stroke="#e8303a" stroke-width="1.1"/>
<line x1="614.0" y1="248.78" x2="619.0" y2="248.78" stroke="#e8303a" stroke-width="1.1"/>
<text x="607.00" y="252.28" text-anchor="end" class="tk" fill="#e8303a">-0.2</text>
<line x1="614.0" y1="232.96" x2="617.0" y2="232.96" stroke="#e8303a" stroke-width="1.1"/>
<line x1="614.0" y1="217.14" x2="619.0" y2="217.14" stroke="#e8303a" stroke-width="1.1"/>
<text x="607.00" y="220.64" text-anchor="end" class="tk" fill="#e8303a">-0.1</text>
<line x1="614.0" y1="201.32" x2="617.0" y2="201.32" stroke="#e8303a" stroke-width="1.1"/>
<line x1="614.0" y1="185.50" x2="619.0" y2="185.50" stroke="#e8303a" stroke-width="1.1"/>
<text x="607.00" y="189.00" text-anchor="end" class="tk" fill="#e8303a">0.0</text>
<line x1="614.0" y1="169.68" x2="617.0" y2="169.68" stroke="#e8303a" stroke-width="1.1"/>
<line x1="614.0" y1="153.86" x2="619.0" y2="153.86" stroke="#e8303a" stroke-width="1.1"/>
<text x="607.00" y="157.36" text-anchor="end" class="tk" fill="#e8303a">0.1</text>
<line x1="614.0" y1="138.04" x2="617.0" y2="138.04" stroke="#e8303a" stroke-width="1.1"/>
<line x1="614.0" y1="122.22" x2="619.0" y2="122.22" stroke="#e8303a" stroke-width="1.1"/>
<text x="607.00" y="125.72" text-anchor="end" class="tk" fill="#e8303a">0.2</text>
<line x1="614.0" y1="106.40" x2="617.0" y2="106.40" stroke="#e8303a" stroke-width="1.1"/>
<line x1="614.0" y1="90.58" x2="619.0" y2="90.58" stroke="#e8303a" stroke-width="1.1"/>
<text x="607.00" y="94.08" text-anchor="end" class="tk" fill="#e8303a">0.3</text>
<line x1="614.0" y1="74.76" x2="617.0" y2="74.76" stroke="#e8303a" stroke-width="1.1"/>
<line x1="614.0" y1="58.94" x2="619.0" y2="58.94" stroke="#e8303a" stroke-width="1.1"/>
<text x="607.00" y="62.44" text-anchor="end" class="tk" fill="#e8303a">0.4</text>
<line x1="614.0" y1="43.12" x2="617.0" y2="43.12" stroke="#e8303a" stroke-width="1.1"/>
<line x1="614.0" y1="27.30" x2="619.0" y2="27.30" stroke="#e8303a" stroke-width="1.1"/>
<text x="607.00" y="30.80" text-anchor="end" class="tk" fill="#e8303a">0.5</text>
<line x1="614.0" y1="11.48" x2="617.0" y2="11.48" stroke="#e8303a" stroke-width="1.1"/>
<line x1="1023.4" y1="343.50" x2="1018.4" y2="343.50" stroke="#377eb8" stroke-width="1.1"/>
<text x="1029.90" y="347.00" class="tk" fill="#377eb8">0</text>
<line x1="1023.4" y1="329.68" x2="1020.4" y2="329.68" stroke="#377eb8" stroke-width="1.1"/>
<line x1="1023.4" y1="315.85" x2="1018.4" y2="315.85" stroke="#377eb8" stroke-width="1.1"/>
<text x="1029.90" y="319.35" class="tk" fill="#377eb8">20</text>
<line x1="1023.4" y1="302.02" x2="1020.4" y2="302.02" stroke="#377eb8" stroke-width="1.1"/>
<line x1="1023.4" y1="288.20" x2="1018.4" y2="288.20" stroke="#377eb8" stroke-width="1.1"/>
<text x="1029.90" y="291.70" class="tk" fill="#377eb8">40</text>
<line x1="1023.4" y1="274.38" x2="1020.4" y2="274.38" stroke="#377eb8" stroke-width="1.1"/>
<line x1="1023.4" y1="260.55" x2="1018.4" y2="260.55" stroke="#377eb8" stroke-width="1.1"/>
<text x="1029.90" y="264.05" class="tk" fill="#377eb8">60</text>
<line x1="1023.4" y1="246.72" x2="1020.4" y2="246.72" stroke="#377eb8" stroke-width="1.1"/>
<line x1="1023.4" y1="232.90" x2="1018.4" y2="232.90" stroke="#377eb8" stroke-width="1.1"/>
<text x="1029.90" y="236.40" class="tk" fill="#377eb8">80</text>
<line x1="1023.4" y1="219.07" x2="1020.4" y2="219.07" stroke="#377eb8" stroke-width="1.1"/>
<line x1="1023.4" y1="205.25" x2="1018.4" y2="205.25" stroke="#377eb8" stroke-width="1.1"/>
<text x="1029.90" y="208.75" class="tk" fill="#377eb8">100</text>
<line x1="1023.4" y1="191.43" x2="1020.4" y2="191.43" stroke="#377eb8" stroke-width="1.1"/>
<line x1="1023.4" y1="177.60" x2="1018.4" y2="177.60" stroke="#377eb8" stroke-width="1.1"/>
<text x="1029.90" y="181.10" class="tk" fill="#377eb8">120</text>
<line x1="1023.4" y1="163.78" x2="1020.4" y2="163.78" stroke="#377eb8" stroke-width="1.1"/>
<line x1="1023.4" y1="149.95" x2="1018.4" y2="149.95" stroke="#377eb8" stroke-width="1.1"/>
<text x="1029.90" y="153.45" class="tk" fill="#377eb8">140</text>
<line x1="1023.4" y1="136.12" x2="1020.4" y2="136.12" stroke="#377eb8" stroke-width="1.1"/>
<line x1="1023.4" y1="122.30" x2="1018.4" y2="122.30" stroke="#377eb8" stroke-width="1.1"/>
<text x="1029.90" y="125.80" class="tk" fill="#377eb8">160</text>
<line x1="1023.4" y1="108.47" x2="1020.4" y2="108.47" stroke="#377eb8" stroke-width="1.1"/>
<line x1="1023.4" y1="94.65" x2="1018.4" y2="94.65" stroke="#377eb8" stroke-width="1.1"/>
<text x="1029.90" y="98.15" class="tk" fill="#377eb8">180</text>
<line x1="1023.4" y1="80.82" x2="1020.4" y2="80.82" stroke="#377eb8" stroke-width="1.1"/>
<line x1="1023.4" y1="67.00" x2="1018.4" y2="67.00" stroke="#377eb8" stroke-width="1.1"/>
<text x="1029.90" y="70.50" class="tk" fill="#377eb8">200</text>
<line x1="1023.4" y1="53.18" x2="1020.4" y2="53.18" stroke="#377eb8" stroke-width="1.1"/>
<line x1="1023.4" y1="39.35" x2="1018.4" y2="39.35" stroke="#377eb8" stroke-width="1.1"/>
<text x="1029.90" y="42.85" class="tk" fill="#377eb8">220</text>
<line x1="1023.4" y1="25.52" x2="1020.4" y2="25.52" stroke="#377eb8" stroke-width="1.1"/>
<line x1="1023.4" y1="11.70" x2="1018.4" y2="11.70" stroke="#377eb8" stroke-width="1.1"/>
<text x="1029.90" y="15.20" class="tk" fill="#377eb8">240</text>
<polyline fill="none" stroke="#e41a1c" stroke-width="1.3" points="637.60,122.54 661.73,116.21 685.86,113.68 709.99,110.01 734.12,115.73 758.25,119.06 782.38,112.85 806.51,108.46 830.64,100.39 854.77,100.39 878.90,98.30 903.03,97.00 927.16,95.96 951.29,95.45 975.42,90.58 999.55,64.76"/>
<rect x="634.90" y="119.84" width="5.4" height="5.4" fill="#e41a1c"/>
<rect x="659.03" y="113.51" width="5.4" height="5.4" fill="#e41a1c"/>
<rect x="683.16" y="110.98" width="5.4" height="5.4" fill="#e41a1c"/>
<rect x="707.29" y="107.31" width="5.4" height="5.4" fill="#e41a1c"/>
<rect x="731.42" y="113.03" width="5.4" height="5.4" fill="#e41a1c"/>
<rect x="755.55" y="116.36" width="5.4" height="5.4" fill="#e41a1c"/>
<rect x="779.68" y="110.15" width="5.4" height="5.4" fill="#e41a1c"/>
<rect x="803.81" y="105.76" width="5.4" height="5.4" fill="#e41a1c"/>
<rect x="827.94" y="97.69" width="5.4" height="5.4" fill="#e41a1c"/>
<rect x="852.07" y="97.69" width="5.4" height="5.4" fill="#e41a1c"/>
<rect x="876.20" y="95.60" width="5.4" height="5.4" fill="#e41a1c"/>
<rect x="900.33" y="94.30" width="5.4" height="5.4" fill="#e41a1c"/>
<rect x="924.46" y="93.26" width="5.4" height="5.4" fill="#e41a1c"/>
<rect x="948.59" y="92.75" width="5.4" height="5.4" fill="#e41a1c"/>
<rect x="972.72" y="87.88" width="5.4" height="5.4" fill="#e41a1c"/>
<rect x="996.85" y="62.06" width="5.4" height="5.4" fill="#e41a1c"/>
<polyline fill="none" stroke="#377eb8" stroke-width="1.3" points="637.60,134.56 661.73,135.19 685.86,132.03 709.99,117.03 734.12,119.06 758.25,112.85 782.38,106.40 806.51,101.15 830.64,117.47 854.77,120.95 878.90,115.99 903.03,113.11 927.16,113.11 951.29,113.90 975.42,113.11 999.55,113.68"/>
<circle cx="637.60" cy="134.56" r="3.1" fill="#377eb8"/>
<circle cx="661.73" cy="135.19" r="3.1" fill="#377eb8"/>
<circle cx="685.86" cy="132.03" r="3.1" fill="#377eb8"/>
<circle cx="709.99" cy="117.03" r="3.1" fill="#377eb8"/>
<circle cx="734.12" cy="119.06" r="3.1" fill="#377eb8"/>
<circle cx="758.25" cy="112.85" r="3.1" fill="#377eb8"/>
<circle cx="782.38" cy="106.40" r="3.1" fill="#377eb8"/>
<circle cx="806.51" cy="101.15" r="3.1" fill="#377eb8"/>
<circle cx="830.64" cy="117.47" r="3.1" fill="#377eb8"/>
<circle cx="854.77" cy="120.95" r="3.1" fill="#377eb8"/>
<circle cx="878.90" cy="115.99" r="3.1" fill="#377eb8"/>
<circle cx="903.03" cy="113.11" r="3.1" fill="#377eb8"/>
<circle cx="927.16" cy="113.11" r="3.1" fill="#377eb8"/>
<circle cx="951.29" cy="113.90" r="3.1" fill="#377eb8"/>
<circle cx="975.42" cy="113.11" r="3.1" fill="#377eb8"/>
<circle cx="999.55" cy="113.68" r="3.1" fill="#377eb8"/>
<polyline fill="none" stroke="#4daf4a" stroke-width="1.3" points="637.60,132.66 661.73,126.97 685.86,120.95 709.99,119.06 734.12,121.43 758.25,121.27 782.38,124.31 806.51,127.92 830.64,127.41 854.77,120.95 878.90,112.85 903.03,108.71 927.16,107.13 951.29,102.48 975.42,98.05 999.55,85.83"/>
<polygon points="637.60,128.86 634.00,135.06 641.20,135.06" fill="#4daf4a"/>
<polygon points="661.73,123.17 658.13,129.37 665.33,129.37" fill="#4daf4a"/>
<polygon points="685.86,117.15 682.26,123.35 689.46,123.35" fill="#4daf4a"/>
<polygon points="709.99,115.26 706.39,121.46 713.59,121.46" fill="#4daf4a"/>
<polygon points="734.12,117.63 730.52,123.83 737.72,123.83" fill="#4daf4a"/>
<polygon points="758.25,117.47 754.65,123.67 761.85,123.67" fill="#4daf4a"/>
<polygon points="782.38,120.51 778.78,126.71 785.98,126.71" fill="#4daf4a"/>
<polygon points="806.51,124.12 802.91,130.32 810.11,130.32" fill="#4daf4a"/>
<polygon points="830.64,123.61 827.04,129.81 834.24,129.81" fill="#4daf4a"/>
<polygon points="854.77,117.15 851.17,123.35 858.37,123.35" fill="#4daf4a"/>
<polygon points="878.90,109.05 875.30,115.25 882.50,115.25" fill="#4daf4a"/>
<polygon points="903.03,104.91 899.43,111.11 906.63,111.11" fill="#4daf4a"/>
<polygon points="927.16,103.33 923.56,109.53 930.76,109.53" fill="#4daf4a"/>
<polygon points="951.29,98.68 947.69,104.88 954.89,104.88" fill="#4daf4a"/>
<polygon points="975.42,94.25 971.82,100.45 979.02,100.45" fill="#4daf4a"/>
<polygon points="999.55,82.03 995.95,88.23 1003.15,88.23" fill="#4daf4a"/>
<polyline fill="none" stroke="#984ea3" stroke-width="1.3" points="637.60,113.11 661.73,121.27 685.86,124.75 709.99,126.97 734.12,126.97 758.25,126.97 782.38,129.18 806.51,134.88 830.64,136.46 854.77,137.09 878.90,133.61 903.03,130.76 927.16,127.41 951.29,124.56 975.42,119.37 999.55,115.45"/>
<polygon points="637.60,116.91 634.00,110.71 641.20,110.71" fill="#984ea3"/>
<polygon points="661.73,125.07 658.13,118.87 665.33,118.87" fill="#984ea3"/>
<polygon points="685.86,128.55 682.26,122.35 689.46,122.35" fill="#984ea3"/>
<polygon points="709.99,130.77 706.39,124.57 713.59,124.57" fill="#984ea3"/>
<polygon points="734.12,130.77 730.52,124.57 737.72,124.57" fill="#984ea3"/>
<polygon points="758.25,130.77 754.65,124.57 761.85,124.57" fill="#984ea3"/>
<polygon points="782.38,132.98 778.78,126.78 785.98,126.78" fill="#984ea3"/>
<polygon points="806.51,138.68 802.91,132.48 810.11,132.48" fill="#984ea3"/>
<polygon points="830.64,140.26 827.04,134.06 834.24,134.06" fill="#984ea3"/>
<polygon points="854.77,140.89 851.17,134.69 858.37,134.69" fill="#984ea3"/>
<polygon points="878.90,137.41 875.30,131.21 882.50,131.21" fill="#984ea3"/>
<polygon points="903.03,134.56 899.43,128.36 906.63,128.36" fill="#984ea3"/>
<polygon points="927.16,131.21 923.56,125.01 930.76,125.01" fill="#984ea3"/>
<polygon points="951.29,128.36 947.69,122.16 954.89,122.16" fill="#984ea3"/>
<polygon points="975.42,123.17 971.82,116.97 979.02,116.97" fill="#984ea3"/>
<polygon points="999.55,119.25 995.95,113.05 1003.15,113.05" fill="#984ea3"/>
<line x1="623.40" y1="21.60" x2="651.60" y2="21.60" stroke="#e41a1c" stroke-width="1.1"/>
<rect x="634.90" y="18.90" width="5.4" height="5.4" fill="#e41a1c"/>
<rect x="658.00" y="15.00" width="27.2" height="13.2" fill="#e41a1c"/>
<text x="689.20" y="25.60" class="lg" fill="#111">50N</text>
<line x1="623.40" y1="37.17" x2="651.60" y2="37.17" stroke="#377eb8" stroke-width="1.1"/>
<circle cx="637.60" cy="37.17" r="3.1" fill="#377eb8"/>
<rect x="658.00" y="30.57" width="27.2" height="13.2" fill="#377eb8"/>
<text x="689.20" y="41.17" class="lg" fill="#111">100N</text>
<line x1="623.40" y1="52.74" x2="651.60" y2="52.74" stroke="#4daf4a" stroke-width="1.1"/>
<polygon points="637.60,48.94 634.00,55.14 641.20,55.14" fill="#4daf4a"/>
<rect x="658.00" y="46.14" width="27.2" height="13.2" fill="#4daf4a"/>
<text x="689.20" y="56.74" class="lg" fill="#111">150N</text>
<line x1="623.40" y1="68.31" x2="651.60" y2="68.31" stroke="#984ea3" stroke-width="1.1"/>
<polygon points="637.60,72.11 634.00,65.91 641.20,65.91" fill="#984ea3"/>
<rect x="658.00" y="61.71" width="27.2" height="13.2" fill="#984ea3"/>
<text x="689.20" y="72.31" class="lg" fill="#111">200N</text>
<text x="818.70" y="381.6" text-anchor="middle" class="ax" fill="#111">Rotating velocity/ (r/min)</text>
<text transform="translate(581.50,178) rotate(-90)" text-anchor="middle" class="ax" fill="#111">Friction coefficient</text>
<text transform="translate(1065.70,177.3) rotate(-90)" text-anchor="middle" class="ax" fill="#111">Temperature/ (°C)</text>
</svg>
<div class="cap" style="left:242.3px;top:422px;">(a) 45 steel</div>
<div class="cap" style="left:696px;top:422px;">(b) TC4 titanium alloy</div>
<div class="cap" style="left:11px;top:464px;letter-spacing:0.012px;">Fig.11 Friction coefficients of 45 steel and TC4 titanium alloy under different loads under dry friction conditions</div>
<div class="cap" style="left:235px;top:507.5px;font-weight:400;">图 11&nbsp; 干摩擦条件下 45 钢和 TC4 钛合金不同载荷的摩擦系数</div>
<svg width="1101" height="539" viewBox="0 0 1101 539" style="pointer-events:none">
<g fill="none" stroke="#00ff00" stroke-opacity="0.2" stroke-width="2" stroke-linejoin="round">
<polyline points="447.8,129.0 603.0,284.5 608.5,291.0 609.0,298.0 602.0,311.0 452.7,456.4 288.2,291.0 447.8,129.0"/>
<polyline points="445.5,177.7 566.4,300.0 458.2,412.7 332.7,286.4 445.5,177.7"/>
<polyline points="354.5,288.2 447.3,195.9 543.0,292.0 547.3,301.8 540.0,311.8 458.2,396.4 436.4,374.5 492.7,318.2"/>
<polyline points="354.5,288.2 374.5,312.7 403.6,281.8 421.8,297.3 391.0,328.2 411.0,350.0 507.0,255.2"/>
<polyline points="421.8,297.3 445.5,320.0 423.0,343.0"/>
<polyline points="507.0,255.2 469.5,217.5 432.0,255.0 469.0,293.6"/>
<polyline points="469.0,293.6 492.7,318.2 509.0,300.0 497.0,282.0"/>
<polyline points="159.9,539.0 114.9,493.7 181.1,427.5 171.1,413.7 200.4,385.2 210.4,397.7 278.2,331.8 400.0,453.6 407.0,464.0 408.2,472.0 401.0,486.5 348.2,539.0"/>
<polyline points="214.8,539.0 167.3,492.4 207.3,451.2 295.0,539.0"/>
<polyline points="272.8,384.9 356.0,464.5 360.5,472.0 361.0,481.0 352.0,493.7 329.0,516.0 234.8,423.7 272.8,384.9"/>
<polyline points="501.6,127.7 489.9,93.9 516.7,71.4 521.7,78.9 565.0,36.5 586.0,57.0 560.0,80.5 600.0,120.0"/>
<polyline points="501.6,127.7 498.8,133.6 522.2,158.7 543.9,115.3 575.0,150.0"/>
<polyline points="596.4,0.0 570.0,25.5 708.2,168.2 644.5,140.9 629.1,154.5 620.0,145.5 638.2,130.0 644.5,140.9"/>
<polyline points="733.6,134.5 618.2,19.6 637.3,0.9 745.0,108.5 748.5,114.0 747.0,120.0 733.6,134.5"/>
<polyline points="690.5,0.0 786.0,96.0 791.0,104.0 788.0,110.0 730.3,176.3 733.3,180.0 706.0,205.0 700.0,207.5 644.5,183.8 668.5,227.0 670.5,233.0 668.0,240.0 641.8,275.5 620.0,254.5 629.1,243.6 595.1,172.6 563.8,201.4 544.5,180.5 631.8,94.5 655.0,118.0"/>
<polyline points="740.3,0.0 827.5,87.7 852.5,62.6 787.9,0.0"/>
<polyline points="845.0,0.0 843.6,3.6 858.2,25.5 839.0,44.5 812.7,0.0"/>
<polyline points="843.6,3.6 868.2,15.5 883.6,0.0"/>
</g>
</svg>
</body></html>
